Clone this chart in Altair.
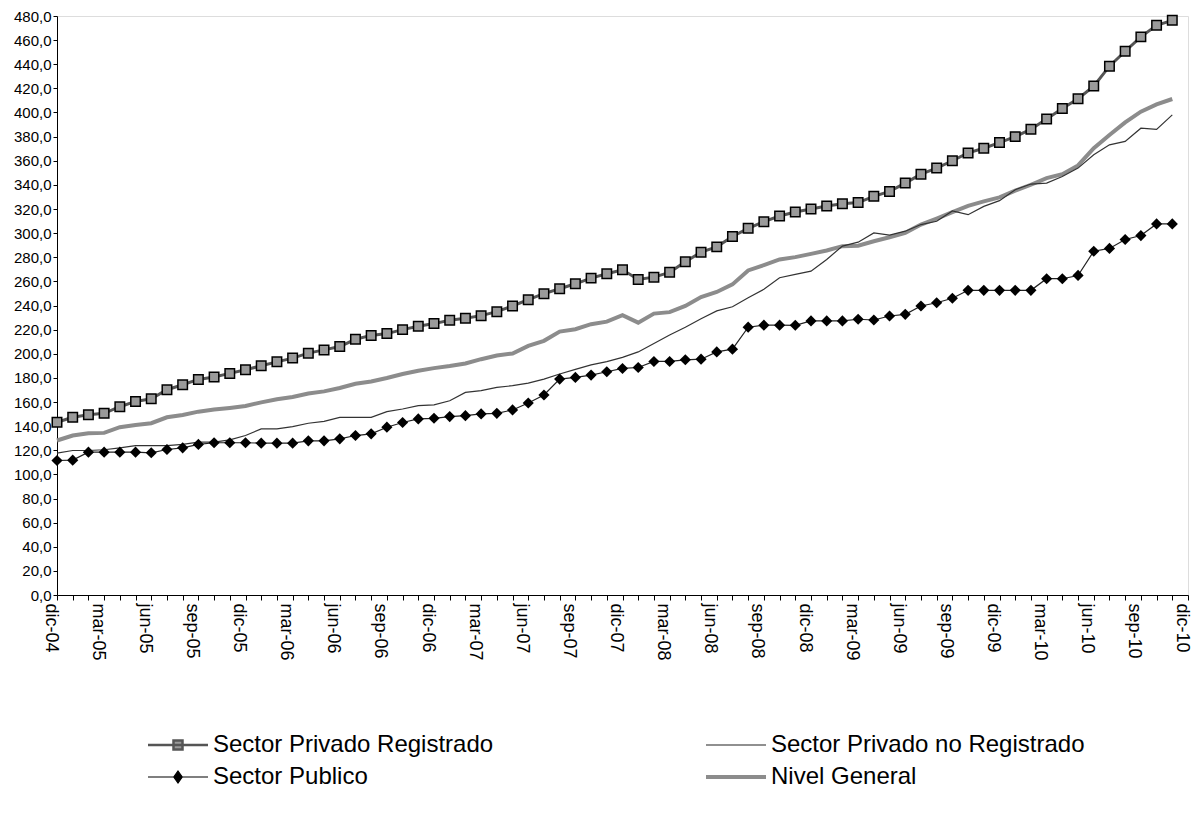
import json
import altair as alt
import pandas as pd

months = [
    "dic-04", "ene-05", "feb-05", "mar-05", "abr-05", "may-05", "jun-05", "jul-05", "ago-05", "sep-05", "oct-05", "nov-05",
    "dic-05", "ene-06", "feb-06", "mar-06", "abr-06", "may-06", "jun-06", "jul-06", "ago-06", "sep-06", "oct-06", "nov-06",
    "dic-06", "ene-07", "feb-07", "mar-07", "abr-07", "may-07", "jun-07", "jul-07", "ago-07", "sep-07", "oct-07", "nov-07",
    "dic-07", "ene-08", "feb-08", "mar-08", "abr-08", "may-08", "jun-08", "jul-08", "ago-08", "sep-08", "oct-08", "nov-08",
    "dic-08", "ene-09", "feb-09", "mar-09", "abr-09", "may-09", "jun-09", "jul-09", "ago-09", "sep-09", "oct-09", "nov-09",
    "dic-09", "ene-10", "feb-10", "mar-10", "abr-10", "may-10", "jun-10", "jul-10", "ago-10", "sep-10", "oct-10", "nov-10",
]

tick_labels = [
    "dic-04", "mar-05", "jun-05", "sep-05", "dic-05", "mar-06", "jun-06", "sep-06", "dic-06",
    "mar-07", "jun-07", "sep-07", "dic-07", "mar-08", "jun-08", "sep-08", "dic-08",
    "mar-09", "jun-09", "sep-09", "dic-09", "mar-10", "jun-10", "sep-10", "dic-10",
]

registrado = [
    143.2, 147.3, 149.5, 150.6, 156.1, 160.5, 162.7, 170.2, 174.3, 178.7, 180.7, 183.7,
    186.7, 190.0, 193.3, 196.4, 200.5, 203.2, 206.0, 212.0, 215.2, 216.7, 220.0, 222.8,
    225.0, 227.7, 229.4, 231.6, 234.9, 239.6, 244.8, 249.8, 253.9, 258.0, 262.7, 266.3,
    269.6, 261.6, 263.5, 267.5, 276.2, 284.2, 288.6, 297.2, 304.0, 309.5, 314.2, 317.5,
    320.0, 322.5, 324.4, 325.3, 330.5, 334.6, 341.5, 348.9, 353.9, 360.0, 366.5, 370.4,
    375.1, 380.0, 386.1, 394.7, 403.4, 411.4, 421.9, 438.4, 450.8, 462.7, 472.3, 476.4,
]

no_registrado = [
    117.6, 119.8, 119.8, 120.4, 122.0, 123.9, 123.9, 123.9, 124.8, 126.7, 126.7, 128.6,
    132.2, 137.7, 137.7, 139.6, 142.4, 144.0, 147.3, 147.3, 147.3, 152.0, 154.2, 157.0,
    157.6, 161.0, 168.0, 169.4, 172.1, 173.5, 175.7, 179.0, 183.2, 187.0, 190.8, 193.5,
    197.0, 201.5, 208.5, 215.5, 222.0, 229.0, 235.5, 239.0, 246.5, 253.4, 263.0, 265.8,
    268.5, 278.2, 289.2, 292.5, 300.2, 298.3, 301.6, 307.1, 309.8, 318.4, 315.3, 322.2,
    326.9, 336.0, 340.7, 341.5, 347.0, 353.9, 364.9, 373.2, 376.0, 387.0, 386.0, 398.0,
]

publico = [
    111.5, 111.8, 118.4, 118.4, 118.4, 118.4, 117.9, 120.6, 122.0, 124.8, 126.2, 126.2,
    126.2, 125.9, 125.9, 125.9, 127.8, 127.8, 129.5, 132.2, 133.6, 139.1, 143.0, 146.0,
    146.5, 147.9, 148.7, 150.1, 150.6, 153.4, 159.2, 165.8, 179.0, 180.4, 182.3, 185.1,
    187.8, 188.6, 193.6, 193.6, 195.0, 195.5, 201.5, 203.8, 222.0, 223.7, 223.7, 223.6,
    227.2, 227.2, 227.2, 228.6, 228.0, 231.3, 232.7, 239.6, 242.3, 246.0, 252.6, 252.6,
    252.6, 252.6, 252.6, 262.2, 262.2, 264.9, 285.0, 287.3, 294.7, 298.0, 307.6, 307.6,
]

nivel_general = [
    128.1, 132.2, 134.1, 134.4, 139.1, 141.0, 142.4, 147.3, 149.3, 152.0, 153.7, 155.1,
    156.7, 159.7, 162.2, 164.1, 167.1, 168.8, 171.6, 175.1, 177.0, 179.9, 183.2, 185.9,
    188.1, 189.8, 191.9, 195.5, 198.5, 200.2, 206.5, 210.7, 218.4, 220.3, 224.5, 226.6,
    231.9, 225.8, 233.3, 234.5, 239.6, 247.0, 251.2, 257.5, 269.1, 273.5, 278.2, 280.1,
    282.8, 285.6, 289.2, 289.5, 293.3, 296.6, 300.2, 307.1, 312.1, 317.4, 322.6, 326.3,
    329.6, 335.2, 340.1, 345.6, 348.9, 356.1, 370.4, 381.4, 391.8, 400.7, 406.7, 411.2,
]

REG = "Sector Privado Registrado"
NOREG = "Sector Privado no Registrado"
PUB = "Sector Publico"
NG = "Nivel General"

series_names = [REG, NOREG, PUB, NG]
series_values = [registrado, no_registrado, publico, nivel_general]

rows = []
for name, vals in zip(series_names, series_values):
    for i, (m, v) in enumerate(zip(months, vals)):
        rows.append({"serie": name, "idx": i, "mes": m, "v": v})
df = pd.DataFrame(rows)

FONT = "Liberation Sans"

x_enc = alt.X(
    "idx:Q",
    scale=alt.Scale(domain=[0, 72], nice=False, zero=False),
    axis=alt.Axis(
        title=None,
        values=list(range(73)),
        grid=False,
        tickSize=5,
        tickColor="#000000",
        domainColor="#000000",
        labelAngle=90,
        labelAlign="left",
        labelBaseline="middle",
        labelPadding=3,
        labelOffset=-7,
        labelFontSize=18,
        labelFont=FONT,
        labelColor="#000000",
        labelOverlap=False,
        labelFlush=False,
        labelExpr="datum.value % 3 == 0 ? " + json.dumps(tick_labels).replace('"', "'") + "[datum.value / 3] : ''",
    ),
)

y_enc = alt.Y(
    "v:Q",
    scale=alt.Scale(domain=[0, 480], nice=False),
    axis=alt.Axis(
        title=None,
        values=list(range(0, 481, 20)),
        grid=False,
        tickSize=4,
        tickColor="#000000",
        domainColor="#000000",
        labelPadding=2,
        labelFontSize=15,
        labelFont=FONT,
        labelColor="#000000",
        labelExpr="replace(format(datum.value, '.1f'), '.', ',')",
    ),
)

base = alt.Chart(df)


def only(name):
    return base.transform_filter(alt.datum.serie == name)


ng_line = only(NG).mark_line(color="#8c8c8c", strokeWidth=4).encode(x=x_enc, y=y_enc)
nr_line = only(NOREG).mark_line(color="#333333", strokeWidth=1.2).encode(x=x_enc, y=y_enc)
pub_line = only(PUB).mark_line(color="#222222", strokeWidth=1.2).encode(x=x_enc, y=y_enc)
pub_pts = only(PUB).mark_point(
    shape="diamond", size=125, filled=True, color="#000000", opacity=1
).encode(x=x_enc, y=y_enc)
reg_line = only(REG).mark_line(color="#555555", strokeWidth=3).encode(x=x_enc, y=y_enc)
reg_pts = only(REG).mark_point(
    shape="square", size=90, fill="#9a9a9a", stroke="#000000", strokeWidth=1.5, opacity=1
).encode(x=x_enc, y=y_enc)

# legend entries (laid out column by column: left column, then right column)
legend_order = [REG, PUB, NOREG, NG]
legend_paths = {
    REG: "M-6,0H6M-0.9,-0.9H0.9V0.9H-0.9Z",
    PUB: "M-6,0H6M0,-1.2L0.85,0L0,1.2L-0.85,0Z",
    NOREG: "M-6,0H6",
    NG: "M-6,0H6",
}
legend_strokes = {REG: "#555555", PUB: "#000000", NOREG: "#222222", NG: "#8c8c8c"}
legend_fills = {REG: "#9a9a9a", PUB: "#000000", NOREG: "#222222", NG: "#8c8c8c"}
legend_widths = {REG: 2.5, PUB: 1.2, NOREG: 1.2, NG: 4}

leg = alt.Legend(
    orient="none",
    legendX=109,
    legendY=717,
    columns=2,
    columnPadding=204,
    rowPadding=8,
    symbolSize=100,
    symbolOffset=0,
    labelOffset=23,
    labelFontSize=24,
    labelFont=FONT,
    labelColor="#000000",
    labelLimit=500,
    padding=0,
)


def lscale(mapping):
    return alt.Scale(type="ordinal", domain=legend_order, range=[mapping[k] for k in legend_order])


legend_layer = base.transform_filter("datum.v < 0").mark_point(opacity=1).encode(
    x=x_enc,
    y=y_enc,
    shape=alt.Shape("serie:N", title=None, scale=lscale(legend_paths), legend=leg),
    stroke=alt.Stroke("serie:N", title=None, scale=lscale(legend_strokes), legend=leg),
    fill=alt.Fill("serie:N", title=None, scale=lscale(legend_fills), legend=leg),
    strokeWidth=alt.StrokeWidth("serie:N", title=None, scale=lscale(legend_widths), legend=leg),
)

chart = alt.layer(
    ng_line, nr_line, pub_line, pub_pts, reg_line, reg_pts, legend_layer
).properties(
    width=1131,
    height=579,
    autosize=alt.AutoSizeParams(type="none"),
    padding={"left": 49, "top": 8, "right": 4, "bottom": 218},
).configure_view(stroke=None).configure(font=FONT, background="white")

chart.save("out.html", embed_options={"renderer": "svg", "actions": False})
